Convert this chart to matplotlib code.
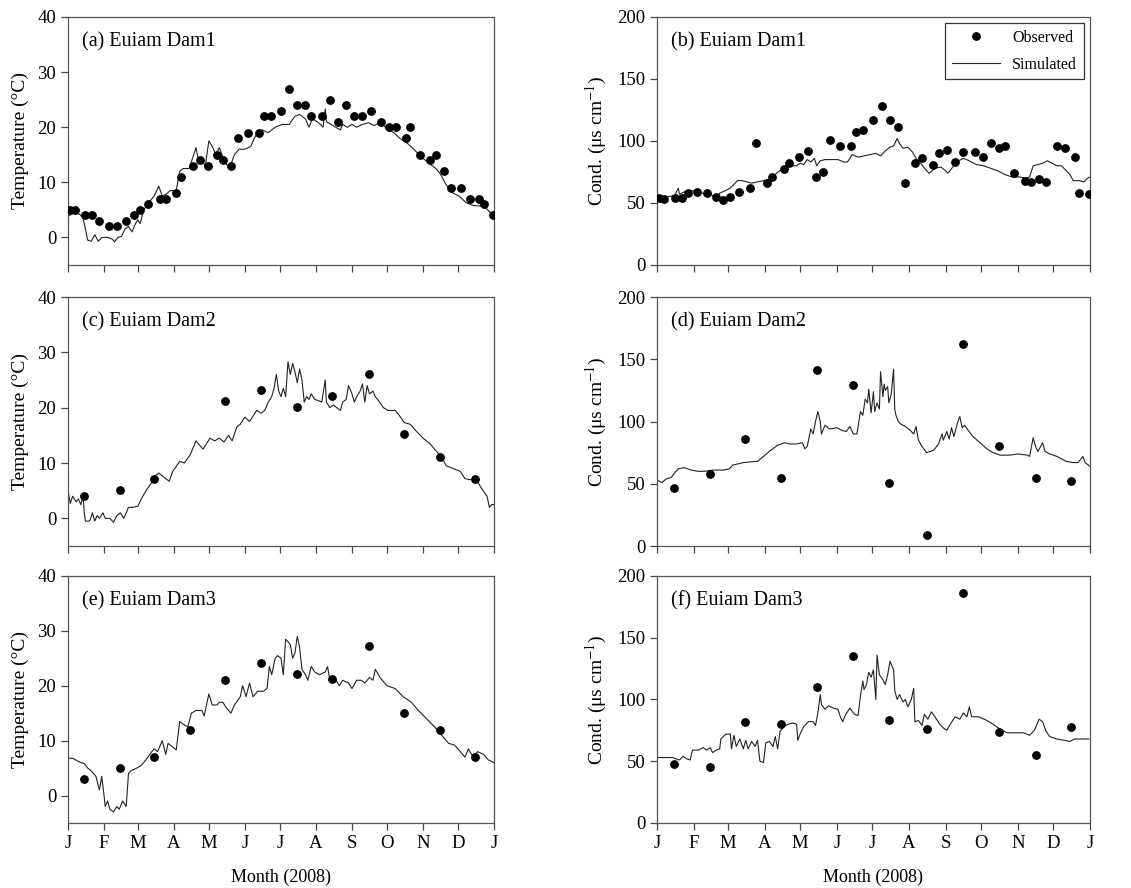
import matplotlib.pyplot as plt
import numpy as np

plt.rcParams['font.family'] = ['Liberation Serif', 'DejaVu Serif']
plt.rcParams['mathtext.fontset'] = 'stix'

month_ticks = [0, 31, 60, 91, 121, 152, 182, 213, 244, 274, 305, 335, 366]
month_labels = ['J', 'F', 'M', 'A', 'M', 'J', 'J', 'A', 'S', 'O', 'N', 'D', 'J']

# (a) Dam1 temperature
obs_a_day = [2, 6, 15, 21, 27, 35, 42, 50, 57, 62, 69, 79, 84, 93, 97, 107, 113, 120, 128, 133,
             140, 146, 155, 164, 168, 174, 183, 190, 197, 204, 209, 218, 225, 232, 239, 246,
             253, 260, 269, 276, 282, 290, 294, 302, 311, 316, 323, 329, 338, 345, 353, 357, 365]
obs_a_val = [5, 5, 4, 4, 3, 2, 2, 3, 4, 5, 6, 7, 7, 8, 11, 13, 14, 13, 15, 14,
             13, 18, 19, 19, 22, 22, 23, 27, 24, 24, 22, 22, 25, 21, 24, 22,
             22, 23, 21, 20, 20, 18, 20, 15, 14, 15, 12, 9, 9, 7, 7, 6, 4]
sim_a_day = [0, 5, 10, 13, 17, 20, 23, 26, 29, 34, 38, 40, 43, 46, 49, 52, 55, 58, 60, 62,
             65, 69, 74, 78, 81, 84, 88, 93, 96, 99, 104, 108, 110, 112, 115, 118, 121, 124,
             127, 130, 134, 137, 140, 143, 147, 152, 157, 160, 163, 167, 172, 178, 184, 190,
             195, 199, 204, 207, 210, 214, 217, 219, 221, 222, 226, 230, 234, 236, 240, 244,
             248, 253, 258, 263, 268, 274, 280, 285, 292, 298, 304, 310, 316, 320, 325, 331,
             336, 342, 348, 354, 359, 363, 366]
sim_a_val = [3.8, 4.5, 4.2, 3.5, -0.5, -0.7, 0.5, -0.7, 0, 0, -0.3, -0.8, 0, 0.2, 1.5, 2, 1, 2.5, 3.2, 2.5,
             5, 6.2, 7.5, 9.3, 7.5, 7.8, 8.5, 8.5, 12, 12.5, 12.5, 15, 16.3, 14, 14, 13, 17.5, 16.5,
             15, 16.3, 14, 13, 13.3, 15, 16, 16, 16.5, 18, 19, 19.5, 19, 20, 20.5, 20.5,
             22, 22.3, 21.5, 20, 21.5, 21, 20.5, 20, 23.3, 21, 20.5, 20, 19.5, 20.5, 20, 20.5,
             20, 20.5, 20.8, 20.3, 20.8, 19.8, 19, 18, 17, 15.8, 14.5, 13.5, 12.5, 11.5, 9.5, 8,
             7.5, 6.3, 5.8, 5.7, 5.3, 4.5, 3.5]

# (b) Dam1 conductivity
obs_b_day = [2, 6, 15, 21, 26, 34, 42, 50, 56, 62, 69, 79, 84, 93, 97, 107, 112, 120, 128, 134,
             140, 146, 155, 164, 168, 174, 183, 190, 197, 204, 210, 218, 224, 233, 238, 245,
             252, 259, 269, 276, 282, 289, 294, 302, 311, 316, 323, 329, 338, 345, 353, 357, 365]
obs_b_val = [54, 53, 54, 54, 58, 59, 58, 55, 52, 55, 59, 62, 98, 66, 71, 77, 82, 87, 92, 71,
             75, 101, 96, 96, 107, 109, 117, 128, 117, 111, 66, 82, 86, 81, 90, 93,
             83, 91, 91, 87, 98, 94, 96, 74, 68, 67, 69, 67, 96, 94, 87, 58, 57]
sim_b_day = [0, 4, 9, 15, 18, 19, 23, 28, 33, 38, 43, 47, 50, 53, 58, 62, 66, 68, 72, 76,
             80, 85, 90, 95, 100, 105, 110, 115, 118, 121, 124, 127, 130, 133, 135, 138, 142,
             148, 153, 158, 161, 165, 170, 175, 180, 185, 189, 193, 197, 200, 203, 205, 208,
             212, 216, 219, 222, 227, 230, 235, 240, 244, 246, 250, 255, 259, 264, 270, 276,
             282, 288, 294, 300, 306, 312, 315, 318, 322, 326, 330, 334, 338, 342, 345, 349,
             352, 357, 361, 364, 366]
sim_b_val = [52, 50.5, 55, 56, 62, 57, 59, 60, 59.5, 58, 57.5, 56, 54, 58, 60, 62, 66, 68, 68, 67,
             66, 67, 68, 69, 73, 77, 80, 80, 80, 82, 81, 85, 83, 86, 80, 84, 85,
             85, 85, 83, 83, 89, 87, 88, 89, 90, 88, 92, 95, 96, 102, 98, 94,
             95, 91, 86, 83, 77, 74, 78, 79, 76, 74, 79, 84, 86, 84, 81, 80,
             78, 76, 73, 71, 71, 70, 71, 80, 81, 82, 84, 82, 80, 80, 77, 73,
             68, 68, 67, 70, 71]

# (c) Dam2 temperature
obs_c_day = [14, 45, 74, 135, 166, 197, 227, 259, 289, 320, 350]
obs_c_val = [4.1, 5.1, 7.1, 21.2, 23.2, 20.2, 22.1, 26.1, 15.2, 11.1, 7.1]
sim_c_day = [0, 2, 4, 7, 9, 11, 13, 14, 15, 18, 19, 21, 23, 25, 27, 30, 32, 36, 39, 42,
             45, 48, 52, 56, 60, 63, 67, 72, 74, 78, 82, 87, 90, 96, 100, 105, 110, 116, 119,
             122, 126, 130, 134, 138, 141, 145, 148, 152, 156, 159, 162, 166, 169, 172, 175,
             177, 179, 181, 183, 185, 187, 189, 191, 193, 195, 197, 199, 201, 203, 205, 207,
             209, 212, 215, 218, 221, 222, 225, 228, 231, 234, 236, 239, 241, 244, 246, 248,
             251, 253, 255, 257, 259, 262, 264, 266, 271, 275, 281, 285, 289, 294, 299, 305,
             311, 317, 321, 325, 331, 337, 341, 345, 351, 355, 360, 362, 364, 366]
sim_c_val = [5, 2.7, 4, 3, 3.5, 2.5, 4, 1, -0.5, -0.5, -0.3, 1, -0.5, 0.5, 0, 1, 0, 0, -0.7, 0.5,
             1, 0, 2, 2, 2.2, 3.5, 5, 6.5, 7.5, 8.2, 7.5, 6.7, 8.5, 10.3, 10, 11.5, 14, 12.5, 13.5,
             14.5, 14, 14.5, 13.8, 15, 14, 16.5, 17, 18.3, 17.5, 18.5, 19.5, 19, 19.5, 21, 22,
             23.5, 26, 23, 22, 23.5, 22, 28.3, 26, 28, 26.5, 24.5, 27, 25, 21, 22, 21.5,
             22.5, 21.5, 21.3, 21, 25, 21, 20, 20.5, 20, 19.5, 21, 21.5, 24, 22.5, 21, 22,
             23, 24.3, 21, 24, 22.5, 23, 22, 21.5, 20, 19.5, 19.5, 18.5, 17.3, 17, 15.8, 14.5,
             13.5, 12, 11, 9.5, 9, 8.5, 7.2, 7, 7, 5.5, 4, 2, 2.5, 2.5]

# (d) Dam2 conductivity
obs_d_day = [14, 45, 74, 105, 135, 166, 196, 228, 259, 289, 320, 350]
obs_d_val = [47, 58, 86, 55, 141, 129, 51, 9, 162, 80, 55, 52]
sim_d_day = [0, 4, 8, 12, 15, 18, 23, 29, 35, 40, 47, 56, 61, 64, 73, 78, 85, 90, 95, 102,
             108, 112, 118, 123, 125, 127, 130, 132, 134, 136, 138, 139, 142, 146, 152, 156,
             160, 163, 166, 169, 172, 174, 176, 178, 179, 181, 183, 184, 186, 188, 189, 191,
             192, 193, 195, 196, 198, 200, 201, 202, 204, 206, 210, 214, 217, 219, 221, 224,
             228, 234, 238, 241, 242, 245, 247, 249, 251, 254, 256, 258, 260, 263, 267, 273,
             279, 284, 290, 298, 305, 313, 315, 318, 320, 322, 326, 328, 332, 338, 342, 346,
             352, 356, 360, 362, 366]
sim_d_val = [53, 51, 54, 55, 59, 62, 63, 61, 60, 60, 61, 61, 62, 65, 67, 67.5, 68, 72, 76, 81,
             83, 82, 82, 83, 78, 80, 94, 90, 100, 108, 100, 90, 97, 94, 95, 93,
             92, 96, 90, 90, 108, 105, 118, 115, 126, 107, 124, 108, 115, 110, 140, 120,
             130, 125, 128, 115, 122, 142, 110, 105, 100, 98, 96, 93, 90, 96, 85, 80,
             75, 77, 82, 90, 85, 92, 86, 95, 88, 99, 104, 95, 97, 93, 88, 83,
             78, 75, 73, 73, 74, 73, 72, 87, 80, 76, 83, 76, 74, 72, 70, 68,
             67, 67, 72, 67, 64]

# (e) Dam3 temperature
obs_e_day = [14, 45, 74, 105, 135, 166, 197, 227, 259, 289, 320, 350]
obs_e_val = [3, 5, 7.1, 12, 21.1, 24.1, 22.2, 21.3, 27.2, 15.1, 12, 7.1]
sim_e_day = [0, 4, 9, 14, 17, 20, 24, 27, 29, 31, 32, 34, 36, 39, 42, 44, 47, 50, 52, 54,
             59, 63, 67, 72, 74, 77, 81, 84, 86, 89, 92, 93, 96, 99, 103, 106, 110, 115,
             117, 121, 124, 128, 130, 133, 136, 140, 143, 148, 150, 153, 156, 159, 163, 168,
             171, 173, 175, 178, 180, 183, 185, 187, 191, 193, 195, 197, 199, 201, 204, 206,
             209, 212, 216, 221, 223, 225, 229, 233, 236, 241, 244, 248, 252, 255, 259, 262,
             264, 268, 274, 281, 288, 295, 301, 308, 315, 321, 327, 332, 337, 341, 344, 348,
             352, 357, 361, 366]
sim_e_val = [6.8, 6.8, 6.2, 5.8, 5, 4.5, 3.5, 1, 3.5, 0, -2, -1, -2.5, -3, -2, -2.5, -1, -2, 4, 4.5,
             5, 5.5, 6.5, 8, 8.5, 8, 10, 7.5, 9.5, 9, 8.5, 8.3, 13.5, 13, 12.5, 15, 15.5, 15.5,
             14.5, 18.5, 16.5, 16.5, 17, 17, 16, 15, 16.5, 18, 20, 18, 20.5, 18, 19, 19,
             19.5, 23.5, 22, 25, 25.5, 25, 22, 28.5, 27.5, 25, 26, 29, 27, 23, 22, 21,
             23.5, 22.5, 22, 22.5, 23.5, 21, 21.5, 20, 21, 20.5, 19.5, 21, 21, 20.5, 21.5, 21,
             23, 21.5, 20, 19.5, 18, 17, 15.5, 14, 12.5, 11, 9.5, 9.2, 8, 7, 8.5, 7,
             8, 7.5, 6.5, 6]

# (f) Dam3 conductivity
obs_f_day = [14, 45, 74, 105, 135, 166, 196, 228, 259, 289, 320, 350]
obs_f_val = [48, 45, 82, 80, 110, 135, 83, 76, 186, 74, 55, 78]
sim_f_day = [0, 8, 13, 19, 22, 25, 28, 30, 35, 39, 42, 45, 47, 50, 53, 54, 57, 59, 62, 63,
             65, 67, 70, 73, 75, 77, 80, 83, 85, 87, 90, 92, 95, 98, 100, 102, 104, 107, 111,
             115, 118, 119, 121, 124, 128, 132, 134, 136, 138, 139, 142, 145, 149, 153, 155,
             157, 159, 163, 167, 170, 172, 174, 175, 177, 179, 181, 183, 185, 186, 188, 191,
             193, 195, 197, 200, 201, 203, 205, 208, 210, 212, 215, 217, 218, 221, 224, 226,
             229, 232, 235, 239, 242, 245, 248, 252, 256, 259, 262, 264, 266, 272, 279, 284,
             290, 296, 304, 310, 315, 319, 323, 326, 329, 332, 338, 344, 349, 353, 360, 365]
sim_f_val = [53, 53, 53, 51, 54, 52, 51, 59, 59, 61, 59, 61, 57, 59, 60, 68, 71, 72, 72, 60,
             71, 62, 68, 60, 67, 60, 66, 62, 67, 50, 49, 65, 66, 62, 70, 60, 74, 78, 80,
             81, 80, 67, 72, 78, 82, 82, 79, 89, 104, 96, 92, 95, 93, 92, 86,
             82, 87, 93, 88, 87, 103, 115, 108, 112, 122, 118, 124, 100, 136, 120, 116,
             112, 120, 131, 124, 107, 100, 104, 98, 100, 94, 100, 109, 82, 83, 79, 88,
             84, 90, 86, 80, 77, 75, 80, 86, 84, 89, 86, 94, 86, 86, 83, 80,
             76, 73, 73, 73, 71, 75, 84, 82, 74, 70, 68, 67, 66, 68, 68, 68]

panels = [
    ('(a) Euiam Dam1', obs_a_day, obs_a_val, sim_a_day, sim_a_val, 'T'),
    ('(b) Euiam Dam1', obs_b_day, obs_b_val, sim_b_day, sim_b_val, 'C'),
    ('(c) Euiam Dam2', obs_c_day, obs_c_val, sim_c_day, sim_c_val, 'T'),
    ('(d) Euiam Dam2', obs_d_day, obs_d_val, sim_d_day, sim_d_val, 'C'),
    ('(e) Euiam Dam3', obs_e_day, obs_e_val, sim_e_day, sim_e_val, 'T'),
    ('(f) Euiam Dam3', obs_f_day, obs_f_val, sim_f_day, sim_f_val, 'C'),
]

fig = plt.figure(figsize=(11.31, 8.88), dpi=100)
rows = [(0.7016, 0.2793), (0.3851, 0.2804), (0.0732, 0.2782)]
cols = [(0.0601, 0.3767), (0.5809, 0.3828)]

for i, (title, od, ov, sd, sv, kind) in enumerate(panels):
    r, c = divmod(i, 2)
    ax = fig.add_axes([cols[c][0], rows[r][0], cols[c][1], rows[r][1]])
    ax.plot(sd, sv, color='#222222', lw=0.8, label='Simulated', zorder=2)
    ax.plot(od, ov, 'o', color='black', ms=5.3, label='Observed', zorder=3)
    ax.set_xlim(0, 366)
    ax.set_xticks(month_ticks)
    if r == 2:
        ax.set_xticklabels(month_labels)
        ax.set_xlabel('Month (2008)', fontsize=13, labelpad=12)
    else:
        ax.set_xticklabels([])
    if kind == 'T':
        ax.set_ylim(-5, 40)
        ax.set_yticks([0, 10, 20, 30, 40])
        ax.set_ylabel('Temperature (°C)', fontsize=14, labelpad=6)
    else:
        ax.set_ylim(0, 200)
        ax.set_yticks([0, 50, 100, 150, 200])
        ax.set_ylabel(r'Cond. (μs cm$^{-1}$)', fontsize=14, labelpad=6)
    ax.tick_params(direction='out', length=5, width=0.9, labelsize=13.5, color='#444444')
    for s in ax.spines.values():
        s.set_color('#555555')
        s.set_linewidth(0.9)
    ax.text(0.033, 0.9, title, transform=ax.transAxes, fontsize=14.5, va='center', ha='left')
    if i == 1:
        h, l = ax.get_legend_handles_labels()
        leg = ax.legend(h[::-1], l[::-1], loc='upper right', fontsize=11.5, fancybox=False,
                        edgecolor='#333333', handlelength=3, borderaxespad=0.4, framealpha=1,
                        labelspacing=0.7)
        leg.get_frame().set_linewidth(0.9)

fig.savefig('out.png', dpi=100)
